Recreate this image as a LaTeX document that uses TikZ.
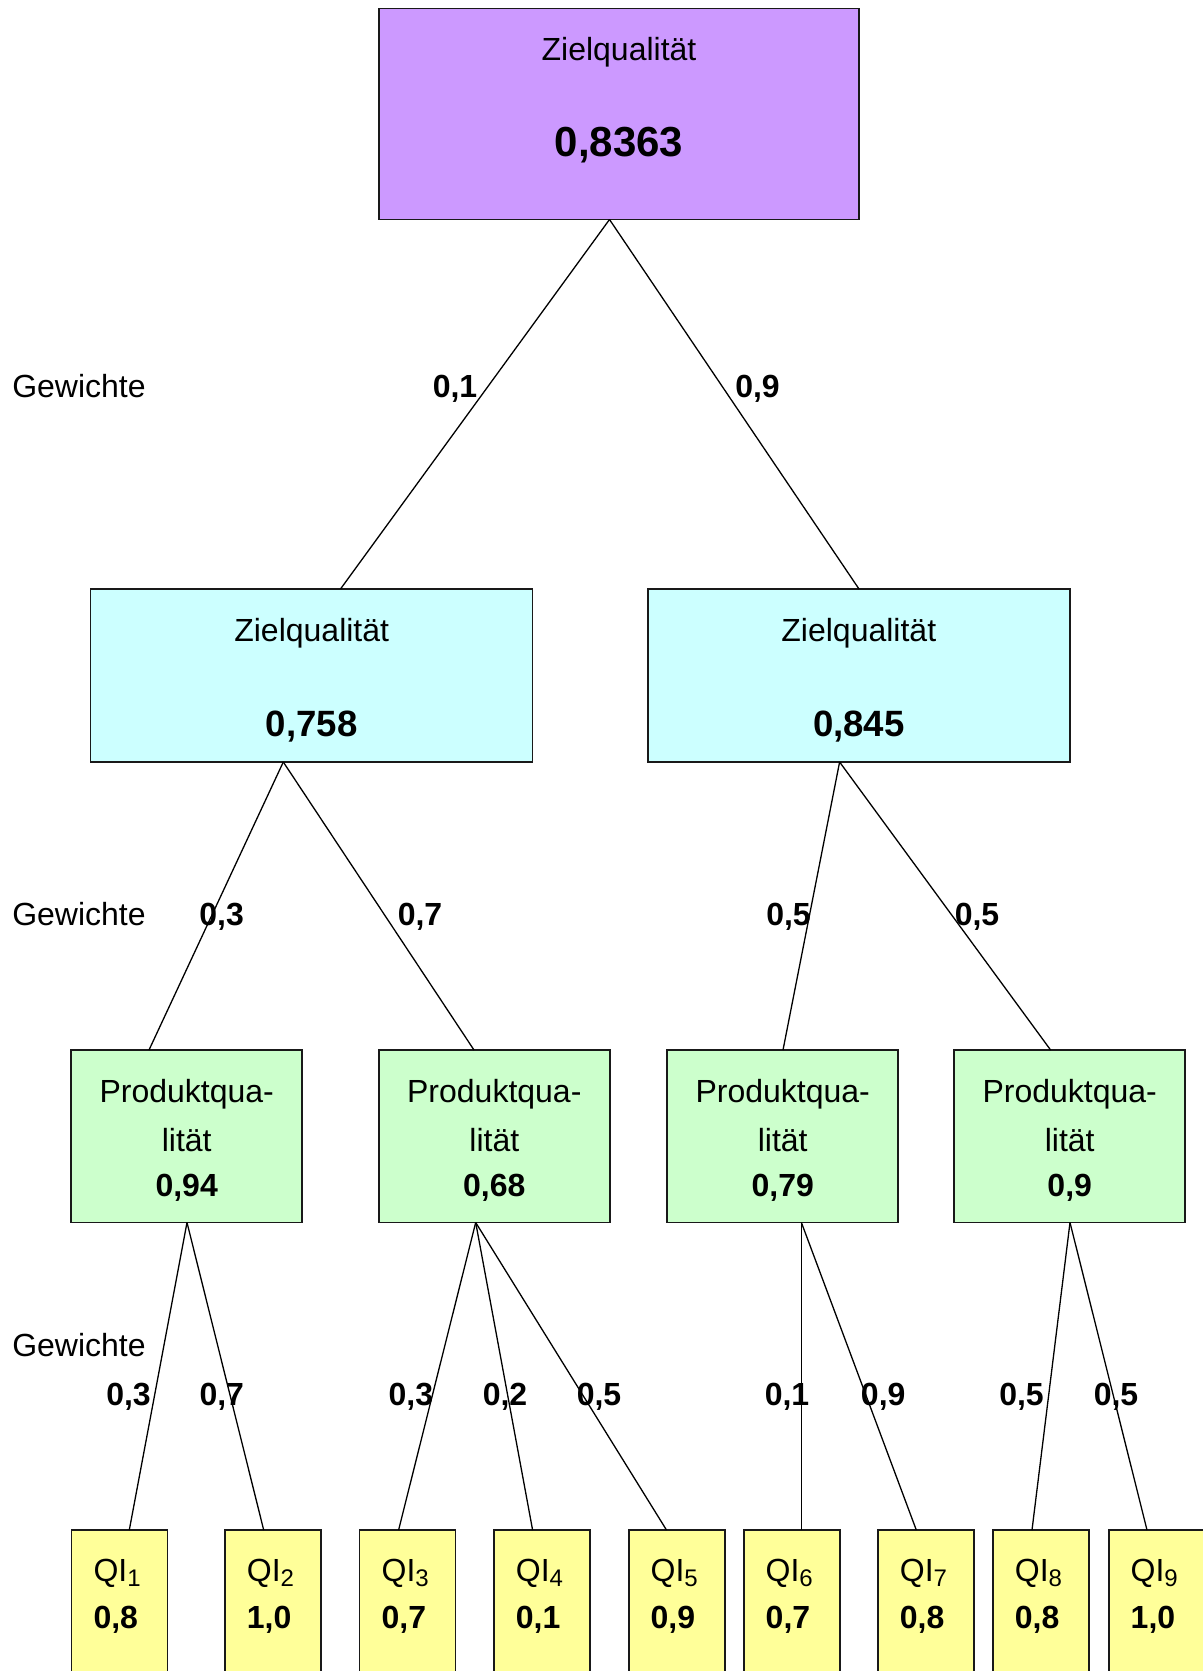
\documentclass[tikz,border=0pt]{standalone}
\usepackage{fontspec}
\setmainfont{Liberation Sans}
\usetikzlibrary{calc}
\definecolor{cPurple}{HTML}{CC99FF}
\definecolor{cCyan}{HTML}{CCFFFF}
\definecolor{cGreen}{HTML}{CCFFCC}
\definecolor{cYellow}{HTML}{FFFF99}
\newcommand\qsub[1]{\raisebox{-2.2pt}{\fontsize{12}{12}\selectfont #1}}
\tikzset{
  box/.style={draw=black!90, line width=0.75pt, anchor=north west, inner sep=0pt, outer sep=0pt},
  topbox/.style={box, fill=cPurple, minimum width=240pt, minimum height=105.5pt},
  midbox/.style={box, fill=cCyan, minimum height=86.5pt},
  pbox/.style={box, fill=cGreen, minimum width=115.5pt, minimum height=86.25pt},
  qbox/.style={box, fill=cYellow, minimum width=48pt, minimum height=110pt},
  conn/.style={draw=black, line width=0.65pt},
  txt/.style={inner sep=0pt, anchor=base, font=\fontsize{16}{19}\selectfont},
  txtl/.style={txt, anchor=base west},
  val/.style={inner sep=0pt, anchor=base, font=\fontsize{16}{19}\selectfont\bfseries},
  vall/.style={val, anchor=base west},
  wt/.style={val},
}
\begin{document}
\begin{tikzpicture}[x=0.5pt, y=-0.5pt]
\useasboundingbox (0,0) rectangle (1203,1671);
\clip (0,0) rectangle (1203,1671);
\fill[white] (0,0) rectangle (1203,1671);

% Level 1
\node[topbox] (top) at (379,8.5) {};
\node[txt] (topT) at (619,60) {Zielqualität};
\node[val, font=\fontsize{21}{24}\selectfont\bfseries] (topV) at (619,156.7) {0,8363};

% Level 2
\node[midbox, minimum width=221pt] (zl) at (90.7,589) {};
\node[txt] (zlT) at (311.7,641) {Zielqualität};
\node[val, font=\fontsize{18.3}{22}\selectfont\bfseries] (zlV) at (311.7,736.7) {0,758};
\node[midbox, minimum width=211pt] (zr) at (647.8,589) {};
\node[txt] (zrT) at (858.8,641) {Zielqualität};
\node[val, font=\fontsize{18.3}{22}\selectfont\bfseries] (zrV) at (858.8,736.7) {0,845};

% Level 3
\foreach \n/\x/\v in {p1/71.2/{0,94}, p2/378.8/{0,68}, p3/667.2/{0,79}, p4/954.2/{0,9}}{
  \node[pbox] (\n) at (\x,1050) {};
  \node[txt] (\n a) at ($(\x,0)+(115.5,1102.3)$) {Produktqua-};
  \node[txt] (\n b) at ($(\x,0)+(115.5,1151.7)$) {lität};
  \node[val] (\n v) at ($(\x,0)+(115.5,1196.7)$) {\v};
}

% Level 4
\foreach \n/\x/\s/\v in {q1/71.6/1/{0,8}, q2/225/2/{1,0}, q3/359.7/3/{0,7}, q4/494/4/{0,1}, q5/628.8/5/{0,9}, q6/743.8/6/{0,7}, q7/878/7/{0,8}, q8/993/8/{0,8}, q9/1108.8/9/{1,0}}{
  \node[qbox] (\n) at (\x,1530) {};
  \node[txtl] (\n a) at ($(\x,0)+(21.5,1581.7)$) {QI\qsub{\s}};
  \node[vall] (\n v) at ($(\x,0)+(21.5,1628.3)$) {\v};
}

% Connectors level 1 -> 2
\draw[conn] (609.5,0 |- top.south) -- (340.5,0 |- zl.north);
\draw[conn] (609.5,0 |- top.south) -- (859,0 |- zr.north);
% level 2 -> 3
\draw[conn] (283.3,0 |- zl.south) -- (149,0 |- p1.north);
\draw[conn] (283.3,0 |- zl.south) -- (474,0 |- p2.north);
\draw[conn] (839.6,0 |- zr.south) -- (783,0 |- p3.north);
\draw[conn] (839.6,0 |- zr.south) -- (1050.6,0 |- p4.north);
% level 3 -> 4
\draw[conn] (187,0 |- p1.south) -- (129.3,0 |- q1.north);
\draw[conn] (187,0 |- p1.south) -- (263.7,0 |- q2.north);
\draw[conn] (475.7,0 |- p2.south) -- (398.6,0 |- q3.north);
\draw[conn] (475.7,0 |- p2.south) -- (532.6,0 |- q4.north);
\draw[conn] (475.7,0 |- p2.south) -- (666.5,0 |- q5.north);
\draw[conn] (801.4,0 |- p3.south) -- (801.4,0 |- q6.north);
\draw[conn] (801.4,0 |- p3.south) -- (916.3,0 |- q7.north);
\draw[conn] (1070,0 |- p4.south) -- (1032,0 |- q8.north);
\draw[conn] (1070,0 |- p4.south) -- (1147,0 |- q9.north);

% Gewichte labels
\node[txtl] (g1) at (11.9,397) {Gewichte};
\node[txtl] (g2) at (11.9,925) {Gewichte};
\node[txtl] (g3) at (11.9,1356.7) {Gewichte};

% weights
\node[wt] (w1) at (455,397) {0,1};
\node[wt] (w2) at (757.5,397) {0,9};
\node[wt] (w3) at (221.6,925) {0,3};
\node[wt] (w4) at (420,925) {0,7};
\node[wt] (w5) at (788.5,925) {0,5};
\node[wt] (w6) at (977,925) {0,5};
\node[wt] (w7) at (128.5,1405) {0,3};
\node[wt] (w8) at (221.8,1405) {0,7};
\node[wt] (w9) at (410.8,1405) {0,3};
\node[wt] (w10) at (505,1405) {0,2};
\node[wt] (w11) at (599,1405) {0,5};
\node[wt] (w12) at (787,1405) {0,1};
\node[wt] (w13) at (883.2,1405) {0,9};
\node[wt] (w14) at (1021.5,1405) {0,5};
\node[wt] (w15) at (1116,1405) {0,5};
\end{tikzpicture}
\end{document}
